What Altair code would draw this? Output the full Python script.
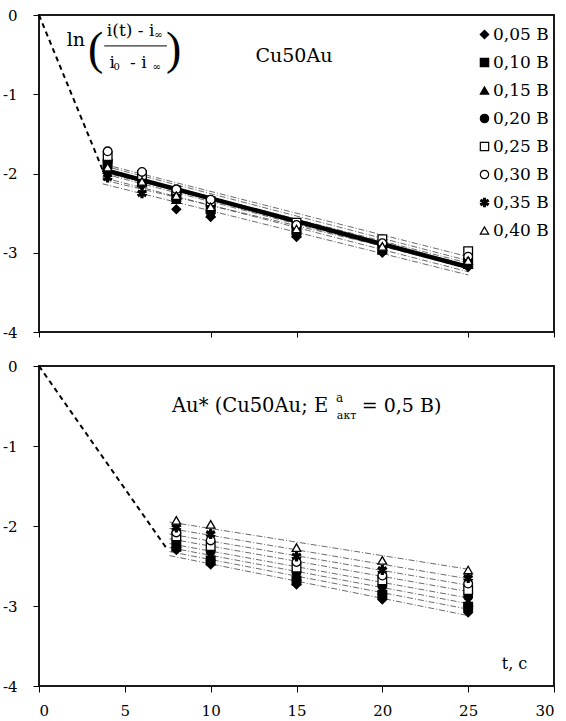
import altair as alt
import pandas as pd

# ---------------- data ----------------
SERIES = ["0,05 В", "0,10 В", "0,15 В", "0,20 В", "0,25 В", "0,30 В", "0,35 В", "0,40 В"]
ASTER = ("M-0.22,-1L0.22,-1L0.22,1L-0.22,1Z "
         "M-0.976,-0.31L-0.756,-0.69L0.976,0.31L0.756,0.69Z "
         "M0.756,-0.69L0.976,-0.31L-0.756,0.69L-0.976,0.31Z")
SHAPES = ["diamond", "square", "triangle-up", "circle", "square", "circle", ASTER, "triangle-up"]
FILLS = ["black", "black", "black", "black", "white", "white", "black", "white"]

# top panel: Cu50Au
T_TOP = [4, 6, 8, 10, 15, 20, 25]
TOP_VALUES = {
    "0,05 В": [-1.98, -2.15, -2.45, -2.55, -2.80, -3.00, -3.18],
    "0,10 В": [-1.88, -2.08, -2.30, -2.45, -2.72, -2.95, -3.12],
    "0,15 В": [-1.95, -2.12, -2.33, -2.50, -2.75, -2.97, -3.15],
    "0,20 В": [-1.85, -2.05, -2.25, -2.40, -2.68, -2.90, -3.08],
    "0,25 В": [-1.78, -2.02, -2.22, -2.35, -2.62, -2.83, -2.98],
    "0,30 В": [-1.72, -1.98, -2.20, -2.33, -2.65, -2.88, -3.05],
    "0,35 В": [-2.05, -2.25, -2.30, -2.48, -2.75, -2.95, -3.12],
    "0,40 В": [-1.92, -2.10, -2.28, -2.42, -2.70, -2.92, -3.10],
}
FIT_TOP_T = [3.7, 25]
FIT_TOP = {
    "0,05 В": [-2.13, -3.28],
    "0,10 В": [-2.00, -3.20],
    "0,15 В": [-2.05, -3.24],
    "0,20 В": [-1.95, -3.13],
    "0,25 В": [-1.88, -3.05],
    "0,30 В": [-1.90, -3.10],
    "0,35 В": [-2.08, -3.17],
    "0,40 В": [-1.98, -3.16],
}
MEAN_TOP_T = [3.7, 25]
MEAN_TOP = [-1.95, -3.18]
DASH_TOP_T = [0, 3.7]
DASH_TOP = [0, -1.95]

# bottom panel: Au*
T_BOT = [8, 10, 15, 20, 25]
BOT_VALUES = {
    "0,05 В": [-2.30, -2.48, -2.73, -2.92, -3.08],
    "0,10 В": [-2.26, -2.43, -2.68, -2.86, -3.01],
    "0,15 В": [-2.22, -2.38, -2.63, -2.80, -2.95],
    "0,20 В": [-2.18, -2.32, -2.58, -2.75, -2.88],
    "0,25 В": [-2.13, -2.25, -2.52, -2.68, -2.80],
    "0,30 В": [-2.08, -2.18, -2.45, -2.62, -2.72],
    "0,35 В": [-2.02, -2.10, -2.38, -2.55, -2.65],
    "0,40 В": [-1.93, -1.98, -2.27, -2.43, -2.55],
}
FIT_BOT_T = [7.6, 25]
FIT_BOT = {
    "0,05 В": [-2.37, -3.12],
    "0,10 В": [-2.32, -3.04],
    "0,15 В": [-2.27, -2.97],
    "0,20 В": [-2.22, -2.90],
    "0,25 В": [-2.16, -2.82],
    "0,30 В": [-2.10, -2.74],
    "0,35 В": [-2.03, -2.66],
    "0,40 В": [-1.95, -2.54],
}
DASH_BOT_T = [0, 7.5]
DASH_BOT = [0, -2.3]

X_TICKS_TOP = [0, 10, 15, 25, 30]
X_TICKS_BOT = [0, 5, 10, 15, 20, 25, 30]
Y_TICKS = [-4, -3, -2, -1, 0]

SERIF = "DejaVu Serif"
TIMES = "Liberation Serif"

XS = alt.Scale(domain=[0, 30], nice=False, zero=False)
YS = alt.Scale(domain=[-4, 0], nice=False, zero=False)

Y_AXIS = alt.Axis(values=Y_TICKS, labelExpr="replace(datum.label, '−', '-')",
                  labelFont=SERIF, labelFontSize=15, labelColor="black",
                  tickSize=6, labelPadding=16, domain=False, grid=False,
                  tickColor="black", title=None)
X_AXIS = {
    "top": alt.Axis(values=X_TICKS_TOP, labels=False, tickSize=5, domain=False,
                    grid=False, tickColor="black", title=None),
    "bot": alt.Axis(values=X_TICKS_BOT, labelFont=SERIF, labelFontSize=15,
                    labelColor="black", tickSize=6, labelPadding=11, domain=False,
                    grid=False, tickColor="black", title=None),
}


# ---------------- helpers ----------------
def long_df(ts, values):
    rows = []
    for s in SERIES:
        for t, v in zip(ts, values[s]):
            rows.append({"t": t, "v": v, "series": s})
    return pd.DataFrame(rows)


def line_df(ts, vs):
    return pd.DataFrame({"t": ts, "v": vs})


def xe(p):
    return alt.X("t:Q", scale=XS, axis=X_AXIS[p], title=None)


def ye(p):
    return alt.Y("v:Q", scale=YS, axis=Y_AXIS, title=None)


def txt(p, t, v, s, size, align="center", font=SERIF):
    return alt.Chart(pd.DataFrame({"t": [t], "v": [v], "s": [s]})).mark_text(
        font=font, fontSize=size, align=align, baseline="middle", color="black"
    ).encode(x=xe(p), y=ye(p), text="s:N")


def points_layer(p, df, legend):
    return alt.Chart(df).mark_point(filled=True, opacity=1, size=75, strokeWidth=1.3).encode(
        x=xe(p), y=ye(p),
        shape=alt.Shape("series:N", scale=alt.Scale(domain=SERIES, range=SHAPES), legend=legend),
        fill=alt.Fill("series:N", scale=alt.Scale(domain=SERIES, range=FILLS), legend=legend),
        stroke=alt.Stroke("series:N", scale=alt.Scale(domain=SERIES, range=["black"] * 8), legend=legend),
    )


def fits_layer(p, ts, fits):
    return alt.Chart(long_df(ts, fits)).mark_line(
        color="#444444", strokeWidth=0.8, strokeDash=[6, 2, 1, 2]
    ).encode(x=xe(p), y=ye(p), detail="series:N")


def dash_layer(p, ts, vs):
    return alt.Chart(line_df(ts, vs)).mark_line(
        color="black", strokeWidth=2, strokeDash=[5, 4]).encode(x=xe(p), y=ye(p))


legend_top = alt.Legend(orient="none", legendX=437, legendY=11, title=None, padding=0,
                        labelFont=SERIF, labelFontSize=17, labelColor="black",
                        rowPadding=10, labelOffset=0, symbolSize=70, symbolStrokeWidth=1.2)

# ---------------- top panel ----------------
top_mean = alt.Chart(line_df(MEAN_TOP_T, MEAN_TOP)).mark_line(
    color="black", strokeWidth=4.5).encode(x=xe("top"), y=ye("top"))

frac_bar = alt.Chart(pd.DataFrame({"t": [3.8], "t2": [7.45], "v": [-0.39]})).mark_rule(
    color="black", strokeWidth=1).encode(x=xe("top"), x2="t2:Q", y=ye("top"))

top = alt.layer(
    fits_layer("top", FIT_TOP_T, FIT_TOP),
    dash_layer("top", DASH_TOP_T, DASH_TOP),
    top_mean,
    points_layer("top", long_df(T_TOP, TOP_VALUES), legend_top),
    txt("top", 2.15, -0.32, "ln", 19),
    txt("top", 3.3, -0.44, "(", 46, font=TIMES),
    txt("top", 7.85, -0.44, ")", 46, font=TIMES),
    txt("top", 3.95, -0.20, "i(t) - i", 17, align="left"),
    txt("top", 6.95, -0.25, "∞", 10),
    txt("top", 4.1, -0.60, "i", 17, align="left"),
    txt("top", 4.52, -0.66, "0", 10),
    txt("top", 5.3, -0.60, "- i", 17, align="left"),
    txt("top", 6.85, -0.65, "∞", 10),
    frac_bar,
    txt("top", 14.85, -0.52, "Cu50Au", 19),
).properties(width=515, height=317)

# ---------------- bottom panel ----------------
bottom = alt.layer(
    fits_layer("bot", FIT_BOT_T, FIT_BOT),
    dash_layer("bot", DASH_BOT_T, DASH_BOT),
    points_layer("bot", long_df(T_BOT, BOT_VALUES), None),
    txt("bot", 7.75, -0.50, "Au* (Cu50Au; E", 19.5, align="left"),
    txt("bot", 17.3, -0.40, "a", 12, align="left"),
    txt("bot", 17.35, -0.62, "акт", 11, align="left"),
    txt("bot", 18.8, -0.50, " = 0,5 В)", 19, align="left"),
    txt("bot", 27.7, -3.73, "t, с", 16),
).properties(width=515, height=320)

chart = alt.VConcatChart(vconcat=[top, bottom], spacing=34, bounds="flush").resolve_legend(
    shape="independent", fill="independent", stroke="independent"
).properties(
    padding={"left": 1, "top": 7, "right": 5, "bottom": 5},
    background="white",
).configure_view(stroke="#1a1a1a", strokeWidth=2)

chart.save("out.html", embed_options={"renderer": "svg", "actions": False})
